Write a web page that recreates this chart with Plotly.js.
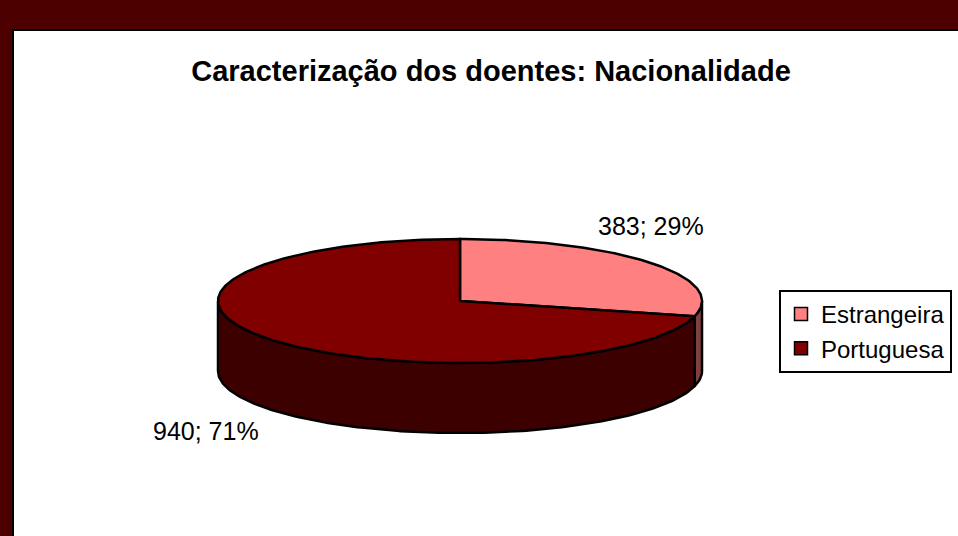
<!DOCTYPE html>
<html>
<head>
<meta charset="utf-8">
<script src="https://cdn.plot.ly/plotly-3.0.1.min.js"></script>
<style>html,body{margin:0;padding:0;background:#4d0000;}#chart{width:958px;height:536px;}</style>
</head>
<body>
<div id="chart"></div>
<script>
// ---- data ----
const categories = ["Estrangeira", "Portuguesa"];
const values = [383, 940];
const topColors = ["#ff8080", "#800000"];
const sideColors = ["#804040", "#3d0000"];
const chartTitle = "Caracterização dos doentes: Nacionalidade";

// ---- geometry (layout, in pixel-like axis units) ----
const W = 958, H = 536;
const cx = 460, cy = 301, rx = 242, ry = 62, depth = 70;

const total = values.reduce((a, b) => a + b, 0);
const pct = values.map(v => Math.round(100 * v / total));

function pt(deg, dz) {
  const t = deg * Math.PI / 180;
  return [cx + rx * Math.sin(t), cy - ry * Math.cos(t) + dz];
}
function arc(a, b, dz) {
  const pts = [];
  const n = Math.max(2, Math.ceil(Math.abs(b - a)));
  for (let i = 0; i <= n; i++) pts.push(pt(a + (b - a) * i / n, dz));
  return pts;
}

const traces = [];
let start = 0;
const ranges = values.map(v => { const a = start; start += 360 * v / total; return [a, start]; });

// sides (front half: 90..270 degrees)
ranges.forEach(([a, b], i) => {
  const s = Math.max(a, 90), e = Math.min(b, 270);
  if (e > s) {
    const pts = arc(s, e, 0).concat(arc(e, s, depth));
    pts.push(pts[0]);
    traces.push({
      type: "scatter", mode: "lines", fill: "toself",
      x: pts.map(p => p[0]), y: pts.map(p => p[1]),
      fillcolor: sideColors[i], line: {color: "#000", width: 2.5},
      showlegend: false, hoverinfo: "skip"
    });
  }
});
// top faces
ranges.forEach(([a, b], i) => {
  const pts = [[cx, cy]].concat(arc(a, b, 0));
  pts.push([cx, cy]);
  traces.push({
    type: "scatter", mode: "lines", fill: "toself",
    x: pts.map(p => p[0]), y: pts.map(p => p[1]),
    fillcolor: topColors[i], line: {color: "#000", width: 2.5},
    showlegend: false, hoverinfo: "skip", name: categories[i]
  });
});
// legend entries
categories.forEach((c, i) => {
  traces.push({
    type: "scatter", mode: "markers", x: [null], y: [null], name: c,
    marker: {symbol: "square", size: 13, color: topColors[i], line: {color: "#000", width: 1.5}},
    showlegend: true, hoverinfo: "skip"
  });
});

const labelPos = [[651, 226], [206, 431]];
const annotations = values.map((v, i) => ({
  x: labelPos[i][0], y: labelPos[i][1], xref: "x", yref: "y",
  text: v + "; " + pct[i] + "%", showarrow: false,
  font: {family: "Liberation Sans, Arial, sans-serif", size: 25, color: "#000"},
  xanchor: "center", yanchor: "middle"
}));

const layout = {
  width: W, height: H,
  margin: {l: 0, r: 0, t: 0, b: 0},
  paper_bgcolor: "#4d0000", plot_bgcolor: "rgba(0,0,0,0)",
  xaxis: {range: [0, W], visible: false, fixedrange: true},
  yaxis: {range: [H, 0], visible: false, fixedrange: true},
  showlegend: true,
  title: {
    text: "<b>" + chartTitle + "</b>",
    x: 491 / W, xanchor: "center", xref: "paper",
    y: 1 - 71 / H, yanchor: "middle", yref: "paper",
    font: {family: "Liberation Sans, Arial, sans-serif", size: 29, color: "#000"}
  },
  legend: {
    x: 779 / W, xanchor: "left", y: 1 - 290 / H, yanchor: "top",
    bgcolor: "#fff", bordercolor: "#000", borderwidth: 2,
    font: {family: "Liberation Sans, Arial, sans-serif", size: 24, color: "#000"},
    traceorder: "normal", itemclick: false, itemdoubleclick: false
  },
  shapes: [{
    type: "rect", xref: "x", yref: "y", x0: 13, y0: 30, x1: W + 20, y1: H + 20,
    fillcolor: "#fff", line: {color: "#000", width: 2}, layer: "below"
  }],
  annotations: annotations,
  hovermode: false
};

Plotly.newPlot("chart", traces, layout, {displayModeBar: false, staticPlot: true});
</script>
</body>
</html>
